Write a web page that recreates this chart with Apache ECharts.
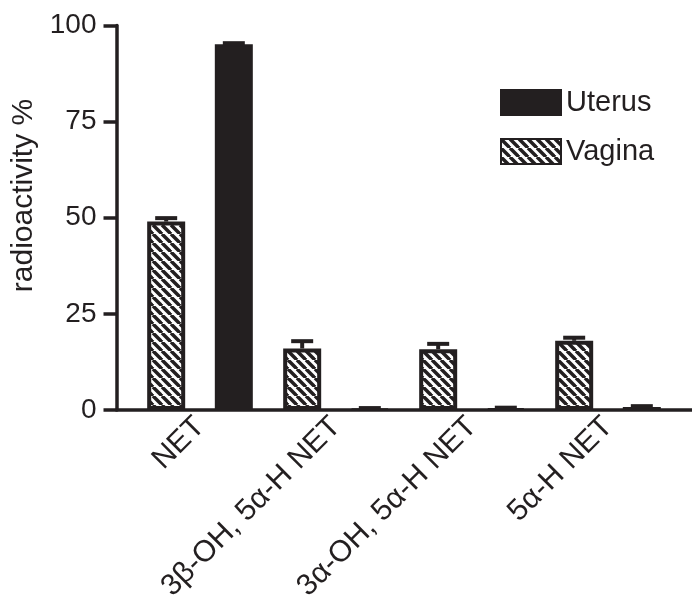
<!DOCTYPE html>
<html><head><meta charset="utf-8">
<script src="https://cdn.jsdelivr.net/npm/echarts@6/dist/echarts.min.js"></script>
<style>html,body{margin:0;padding:0;background:#fff}#c{width:692px;height:607px}</style>
</head><body><div id="c"></div>
<script>
// ---- data ----
const categories = ['NET', '3β-OH, 5α-H NET', '3α-OH, 5α-H NET', '5α-H NET'];
const seriesNames = ['Vagina', 'Uterus'];
const vaginaValues = [49.0, 16.0, 15.8, 18.0];
const vaginaErrors = [0.9, 1.9, 1.4, 0.8];
const uterusValues = [95.1, 0.4, 0.5, 0.8];
const uterusErrors = [0.3, 0.1, 0.1, 0.2];
const yTicks = [0, 25, 50, 75, 100];
const yTitle = 'radioactivity %';

// ---- style ----
const INK = '#231f20';
const FONT = '"Liberation Sans", Arial, Helvetica, sans-serif';
const BAR_W = 38;
const BAR_GAP = 0.78;
const OFFSET = BAR_W * (1 + BAR_GAP) / 2;
const P = 9;

function hatch() {
  const c = document.createElement('canvas');
  c.width = P; c.height = P;
  const g = c.getContext('2d');
  g.fillStyle = '#fff'; g.fillRect(0, 0, P, P);
  g.strokeStyle = INK; g.lineWidth = 3.5;
  for (const k of [-P, 0, P]) {
    g.beginPath(); g.moveTo(k, 0); g.lineTo(k + P, P); g.stroke();
  }
  return c;
}
const hatchPattern = { image: hatch(), repeat: 'repeat' };

function errData(vals, errs) { return vals.map((v, i) => [i, v, errs[i]]); }
function errSeries(vals, errs, dx) {
  return {
    type: 'custom', xAxisIndex: 1, yAxisIndex: 1, z: 5, silent: true,
    encode: { x: 0, y: 1 },
    data: errData(vals, errs),
    renderItem: function (params, api) {
      const i = api.value(0), v = api.value(1), e = api.value(2);
      const p0 = api.coord([i, v]);
      const p1 = api.coord([i, v + e]);
      const x = p0[0] + dx;
      const st = { stroke: INK, lineWidth: 4 };
      return { type: 'group', children: [
        { type: 'line', shape: { x1: x, y1: p0[1], x2: x, y2: p1[1] }, style: st },
        { type: 'line', shape: { x1: x - 11, y1: p1[1], x2: x + 11, y2: p1[1] }, style: st }
      ]};
    }
  };
}

const chart = echarts.init(document.getElementById('c'));
chart.setOption({
  backgroundColor: '#fff',
  animation: false,
  textStyle: { fontFamily: FONT, color: INK },
  grid: [
    { left: 116.5, right: 0, top: 25.5, bottom: 197 },
    { left: 132, right: 16, top: 25.5, bottom: 197 }
  ],
  xAxis: [
    { gridIndex: 0, type: 'value', min: 0, max: 1, axisLine: { show: true, lineStyle: { color: INK, width: 3.5 } },
      axisTick: { show: false }, axisLabel: { show: false }, splitLine: { show: false } },
    { gridIndex: 1, type: 'category', data: categories, axisLine: { show: false }, axisTick: { show: false },
      axisLabel: { interval: 0, rotate: 45, margin: 12, fontSize: 30, color: INK, fontFamily: FONT } }
  ],
  yAxis: [
    { gridIndex: 0, type: 'value', min: yTicks[0], max: yTicks[yTicks.length - 1], interval: 25,
      axisLine: { show: true, lineStyle: { color: INK, width: 3.5 } },
      axisTick: { show: true, length: 13, lineStyle: { color: INK, width: 3.5 } },
      axisLabel: { margin: 20, fontSize: 28, color: INK, fontFamily: FONT },
      splitLine: { show: false } },
    { gridIndex: 1, type: 'value', min: yTicks[0], max: yTicks[yTicks.length - 1], show: false }
  ],
  legend: {
    data: ['Uterus', 'Vagina'], orient: 'vertical', left: 500, top: 88, padding: 0,
    itemWidth: 60, itemHeight: 25, itemGap: 20, icon: 'rect',
    textStyle: { fontSize: 29, color: INK, fontFamily: FONT }
  },
  graphic: [{
    type: 'text', x: 24, y: 195.5, rotation: Math.PI / 2,
    style: { text: yTitle, fill: INK, font: '30px ' + FONT, textAlign: 'center', textVerticalAlign: 'middle' }
  }],
  series: [
    { name: seriesNames[0], type: 'bar', xAxisIndex: 1, yAxisIndex: 1, data: vaginaValues,
      barWidth: BAR_W, barGap: (BAR_GAP * 100) + '%',
      itemStyle: { color: hatchPattern, borderColor: INK, borderWidth: 4 } },
    { name: seriesNames[1], type: 'bar', xAxisIndex: 1, yAxisIndex: 1, data: uterusValues,
      barWidth: BAR_W, barGap: (BAR_GAP * 100) + '%',
      itemStyle: { color: INK, borderColor: INK, borderWidth: 2 } },
    errSeries(vaginaValues, vaginaErrors, -OFFSET),
    errSeries(uterusValues, uterusErrors, OFFSET)
  ]
});
</script></body></html>
